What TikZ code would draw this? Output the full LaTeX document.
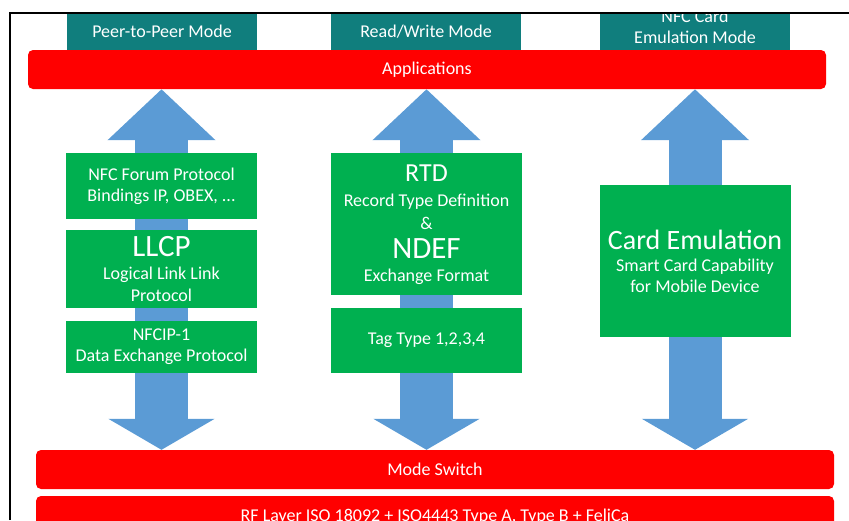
\documentclass[tikz,border=0pt]{standalone}
\usepackage{fontspec}
\setmainfont{Carlito}
\usepackage{tikz}
\usetikzlibrary{arrows.meta,positioning,calc}
\pgfdeclarelayer{background}
\pgfsetlayers{background,main}
\definecolor{modeteal}{RGB}{16,126,125}
\definecolor{barred}{RGB}{255,0,0}
\definecolor{stackgreen}{RGB}{0,176,80}
\definecolor{arrowblue}{RGB}{91,155,213}
\tikzstyle{modebox}=[fill=modeteal, text=white, minimum width=190pt,
minimum height=37pt, align=center, inner sep=0pt]
\tikzstyle{barbox}=[fill=barred, text=white, rounded corners=5pt,
minimum width=798pt, minimum height=39pt, inner sep=0pt]
\tikzstyle{stackbox}=[fill=stackgreen, text=white, minimum width=191pt,
align=center, inner sep=0pt]
\tikzstyle{flowarrow}=[line width=53pt, draw=arrowblue,
{Triangle[width=105pt,length=51pt,fill=arrowblue]}-{Triangle[width=105pt,length=31pt,fill=arrowblue]}]
\newcommand{\stack}[3]{node (#1)[stackbox, anchor=north, minimum height=#2]{#3}}
\newcommand{\bigtxt}[2]{{\fontsize{#1}{#1}\selectfont #2}}

\begin{document}
\begin{tikzpicture}[x=1pt,y=-1pt,font=\fontsize{18}{21}\selectfont]
		\useasboundingbox (0,0) rectangle (849,520);
		
		\begin{scope}
		\clip (10,13) rectangle (849,520);
		% Modes and bars
		\node (p2p) [modebox] at (162,31.5) {Peer-to-Peer Mode};
		\node (rw) [modebox] at (426,31.5) {Read/Write Mode};
		\node (card) [modebox, minimum height=47pt] at (695,26.5) {NFC Card\\Emulation Mode};
		\node (app) [barbox] at (427,69.5) {Applications};
		\node (sw) [barbox] at (435,469.5) {Mode Switch};
		\node (rf) [barbox, minimum height=42pt] at (435,517) {RF Layer ISO 18092 + ISO4443 Type A, Type B + FeliCa};
		\end{scope}
		
		% Protocol stacks
		\path (161.5,153) \stack{fnb}{66pt}{NFC Forum Protocol\\Bindings IP, OBEX, ...};
		\path (fnb.south)+(0,10) \stack{llcp}{78pt}{\bigtxt{31}{LLCP}\\[2pt]Logical Link Link\\[1pt]Protocol};
		\path (llcp.south)+(0,13) \stack{nfcip}{52pt}{NFCIP-1\\Data Exchange Protocol};
		
		\path (426.5,153) \stack{rtd}{142pt}{\bigtxt{26}{RTD}\\[4pt]Record Type Definition\\[2pt]\&\\[8pt]\bigtxt{31}{NDEF}\\[2pt]Exchange Format};
		\path (rtd.south)+(0,12) \stack{tag}{65pt}{Tag Type 1,2,3,4};
		
		\path (695,185) \stack{ce}{152pt}{\bigtxt{28}{Card Emulation}\\[1pt]Smart Card Capability\\for Mobile Device};
		
		% Block arrows behind the stacks
		\begin{pgfonlayer}{background}
		\draw [flowarrow] (app.south -| fnb) -- (sw.north -| fnb);
		\draw [flowarrow] (app.south -| rtd) -- (sw.north -| rtd);
		\draw [flowarrow] (app.south -| ce) -- (sw.north -| ce);
		\end{pgfonlayer}
		
		% Frame
		\draw [line width=1.5pt] (10,520) -- (10,13) -- (849,13);
		\end{tikzpicture}
\end{document}
